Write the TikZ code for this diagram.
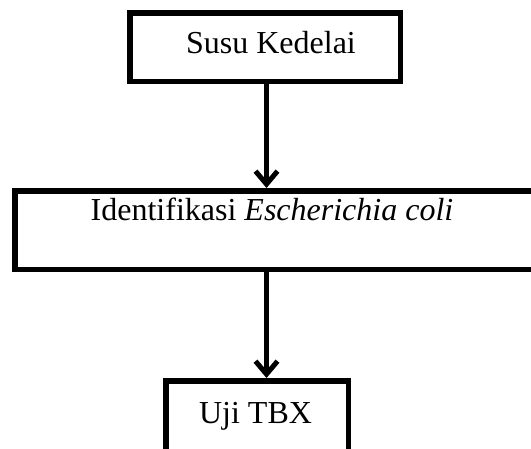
\documentclass[tikz,border=0pt]{standalone}
\usepackage{fontspec}
\setmainfont{Liberation Serif}
\usetikzlibrary{arrows.meta}
\begin{document}
\begin{tikzpicture}[x=1pt,y=-1pt,
  box/.style={draw=black, line width=5.5pt, inner sep=0pt, fill=none},
  lbl/.style={anchor=base, inner sep=0pt, font=\fontsize{32}{36}\selectfont},
  arr/.style={line width=5pt, -{Straight Barb[length=13pt,width=22pt,line width=5pt]}}]
\useasboundingbox[fill=white] (0,0) rectangle (531,448);
\node[box, minimum width=270.5pt, minimum height=68.5pt] (b1) at (265,47) {};
\node[box, minimum width=545.25pt, minimum height=78.5pt] (b2) at (287.4,230) {};
\node[box, minimum width=182.5pt, minimum height=89.25pt] (b3) at (257,425.4) {};
\node[lbl] (t1) at (271,53.5) {Susu Kedelai};
\node[lbl] (t2) at (272,220.5) {Identifikasi \textit{Escherichia coli}};
\node[lbl] (t3) at (255.5,423.5) {Uji TBX};
\coordinate (ax) at (266.5,0);
\draw[arr] (b1.south -| ax) -- (b2.north -| ax);
\draw[arr] (b2.south -| ax) -- (b3.north -| ax);
\end{tikzpicture}
\end{document}
